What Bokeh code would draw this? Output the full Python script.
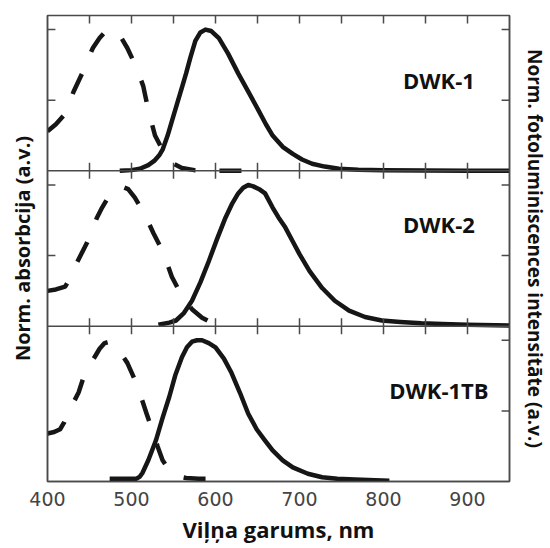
from bokeh.plotting import figure
from bokeh.models import LinearAxis, FixedTicker, Span, Range1d
from bokeh.embed import file_html
from bokeh.resources import INLINE
from bokeh.core.properties import value

# ---------------- data ----------------
# DWK-1
abs1_wl = [400, 410, 419, 425, 431, 442, 448, 454, 462, 471, 480, 488, 495, 506, 514, 520, 528, 535, 541, 550, 560, 575, 600, 650]
abs1_val = [0.28, 0.33, 0.39, 0.47, 0.56, 0.70, 0.79, 0.87, 0.94, 1.0, 0.99, 0.94, 0.87, 0.73, 0.60, 0.43, 0.25, 0.17, 0.10, 0.05, 0.02, 0.005, 0.0, 0.0]
pl1_wl = [486, 500, 510, 520, 527, 533, 537, 543, 548, 555, 560, 565, 570, 576, 582, 588, 595, 604, 615, 627, 640, 651, 660, 668, 680, 692, 703, 715, 730, 747, 770, 800, 850, 900, 950]
pl1_val = [0.0, 0.005, 0.015, 0.04, 0.07, 0.11, 0.15, 0.25, 0.35, 0.49, 0.59, 0.69, 0.80, 0.92, 0.98, 1.0, 0.99, 0.94, 0.83, 0.69, 0.55, 0.43, 0.33, 0.25, 0.17, 0.12, 0.08, 0.05, 0.03, 0.015, 0.008, 0.004, 0.002, 0.001, 0.0]

# DWK-2
abs2_wl = [400, 410, 421, 428, 435, 447, 453, 459, 465, 471, 480, 488, 496, 504, 512, 519, 526, 538, 548, 555, 562, 572, 584, 595, 604, 615]
abs2_val = [0.25, 0.26, 0.28, 0.35, 0.45, 0.59, 0.68, 0.77, 0.84, 0.90, 0.96, 0.99, 0.97, 0.91, 0.83, 0.75, 0.66, 0.52, 0.35, 0.27, 0.20, 0.12, 0.06, 0.025, 0.01, 0.0]
pl2_wl = [532, 545, 553, 562, 572, 582, 592, 602, 612, 620, 627, 633, 639, 645, 652, 659, 668, 675, 683, 692, 700, 712, 727, 742, 759, 778, 798, 820, 845, 870, 900, 950]
pl2_val = [0.01, 0.025, 0.04, 0.09, 0.18, 0.31, 0.46, 0.62, 0.77, 0.87, 0.94, 0.98, 1.0, 0.99, 0.97, 0.94, 0.84, 0.77, 0.70, 0.60, 0.51, 0.39, 0.27, 0.18, 0.11, 0.065, 0.04, 0.03, 0.02, 0.015, 0.01, 0.005]

# DWK-1TB
abs3_wl = [400, 408, 415, 420, 425, 431, 437, 443, 449, 456, 462, 468, 474, 480, 487, 495, 504, 513, 518, 526, 531, 537, 545, 553, 565, 580, 601]
abs3_val = [0.34, 0.35, 0.37, 0.42, 0.49, 0.56, 0.63, 0.74, 0.81, 0.88, 0.94, 0.98, 0.99, 0.95, 0.91, 0.84, 0.72, 0.57, 0.48, 0.34, 0.25, 0.15, 0.08, 0.04, 0.025, 0.02, 0.02]
pl3_wl = [474, 490, 506, 510, 513, 520, 529, 537, 545, 552, 560, 566, 572, 578, 584, 592, 600, 610, 619, 629, 639, 649, 659, 668, 680, 692, 710, 727, 745, 766, 790, 807]
pl3_val = [0.02, 0.02, 0.02, 0.035, 0.06, 0.15, 0.29, 0.45, 0.60, 0.75, 0.88, 0.95, 0.99, 1.0, 1.0, 0.98, 0.95, 0.87, 0.77, 0.63, 0.48, 0.37, 0.29, 0.22, 0.15, 0.10, 0.055, 0.03, 0.02, 0.015, 0.008, 0.005]

sample_names = ["DWK-1", "DWK-2", "DWK-1TB"]
x_tick_labels = [400, 500, 600, 700, 800, 900]
x_minor_ticks = [450, 550, 650, 750, 850, 950]
y_ticks = [0.5, 1.0]

# ---------------- layout ----------------
X0, X1 = 400, 950
PANEL = 1.1                    # height of one panel in y units
offsets = [2 * PANEL, PANEL, 0.0]
FRAME_W, FRAME_H = 467, 466
TICK_PX = 8
ty = TICK_PX * 3 * PANEL / FRAME_H      # tick length in y units
tx = TICK_PX * (X1 - X0) / FRAME_W      # tick length in x units

LINE = "#161616"
AX = "#4a4a4a"

p = figure(width=550, height=548, x_range=Range1d(X0, X1), y_range=Range1d(0, 3 * PANEL),
           output_backend="svg", toolbar_location=None,
           min_border_left=47, min_border_right=36, min_border_top=15, min_border_bottom=67)
p.grid.visible = False
p.outline_line_color = AX
p.outline_line_width = 1.5
p.background_fill_color = "white"
p.border_fill_color = "white"

series = [(abs1_wl, abs1_val, pl1_wl, pl1_val),
          (abs2_wl, abs2_val, pl2_wl, pl2_val),
          (abs3_wl, abs3_val, pl3_wl, pl3_val)]
label_pos = [0.64, 0.725, 0.645]

for (awl, av, pwl, pv), off, name, lp in zip(series, offsets, sample_names, label_pos):
    p.line(awl, [v + off for v in av], line_color=LINE, line_width=4.5, line_dash="22 24",
           line_cap="butt", line_join="round")
    p.line(pwl, [v + off for v in pv], line_color=LINE, line_width=4.5, line_join="round")
    p.text(x=[866], y=[off + lp], text=[name], text_font=value("Open Sans"),
           text_font_style="bold", text_font_size="22px", text_color="#111111",
           text_align="center", text_baseline="middle")

# x ticks: top edge (inward), panel separators (both sides); none on the bottom edge
all_x_ticks = sorted(x_tick_labels + x_minor_ticks)
inner_ticks = [t for t in all_x_ticks if X0 < t < X1]
top = 3 * PANEL
p.segment(x0=inner_ticks, y0=[top] * len(inner_ticks), x1=inner_ticks, y1=[top - ty] * len(inner_ticks),
          line_color=AX, line_width=1.5)
for b in offsets[:2]:
    p.add_layout(Span(location=b, dimension="width", line_color=AX, line_width=1.5))
    p.segment(x0=inner_ticks, y0=[b - ty] * len(inner_ticks),
              x1=inner_ticks, y1=[b + ty] * len(inner_ticks),
              line_color=AX, line_width=1.5)

# y ticks: left side in panels 1-2, right side in all panels
left_y = [off + t for off in offsets[:2] for t in y_ticks]
right_y = [off + t for off in offsets for t in y_ticks]
p.segment(x0=[X0] * len(left_y), y0=left_y, x1=[X0 + tx] * len(left_y), y1=left_y,
          line_color=AX, line_width=1.5)
p.segment(x0=[X1] * len(right_y), y0=right_y, x1=[X1 - tx] * len(right_y), y1=right_y,
          line_color=AX, line_width=1.5)

# bottom axis: labels only
xa = p.xaxis[0]
xa.ticker = FixedTicker(ticks=x_tick_labels, minor_ticks=[])
xa.major_tick_in = 0
xa.major_tick_out = 0
xa.minor_tick_in = 0
xa.minor_tick_out = 0
xa.axis_line_color = AX
xa.axis_line_width = 1.5
xa.major_label_text_font = "DejaVu Sans"
xa.major_label_text_font_size = "19px"
xa.major_label_text_color = "#444444"
xa.major_label_standoff = 10
xa.axis_label = "Viļņa garums, nm"
xa.axis_label_text_font = "Open Sans"
xa.axis_label_text_font_style = "bold"
xa.axis_label_text_font_size = "22px"
xa.axis_label_text_color = "#111111"
xa.axis_label_standoff = 5

# left axis: title only
ya = p.yaxis[0]
ya.ticker = FixedTicker(ticks=[], minor_ticks=[])
ya.major_tick_in = 0
ya.major_tick_out = 0
ya.minor_tick_in = 0
ya.minor_tick_out = 0
ya.axis_line_color = AX
ya.axis_line_width = 1.5
ya.major_label_standoff = 0
ya.axis_label = "Norm. absorbcija (a.v.)"
ya.axis_label_text_font = "Open Sans"
ya.axis_label_text_font_style = "bold"
ya.axis_label_text_font_size = "20px"
ya.axis_label_text_color = "#111111"
ya.axis_label_standoff = 12

# right axis: title only
ra = LinearAxis(ticker=FixedTicker(ticks=[], minor_ticks=[]))
ra.major_tick_in = 0
ra.major_tick_out = 0
ra.minor_tick_in = 0
ra.minor_tick_out = 0
ra.axis_line_color = AX
ra.axis_line_width = 1.5
ra.major_label_standoff = 0
ra.axis_label = "Norm. fotoluminiscences intensitāte (a.v.)"
ra.axis_label_text_font = "Open Sans"
ra.axis_label_text_font_style = "bold"
ra.axis_label_text_font_size = "19px"
ra.axis_label_text_color = "#111111"
ra.axis_label_standoff = 12
p.add_layout(ra, "right")

open("out.html", "w").write(file_html(p, INLINE))
